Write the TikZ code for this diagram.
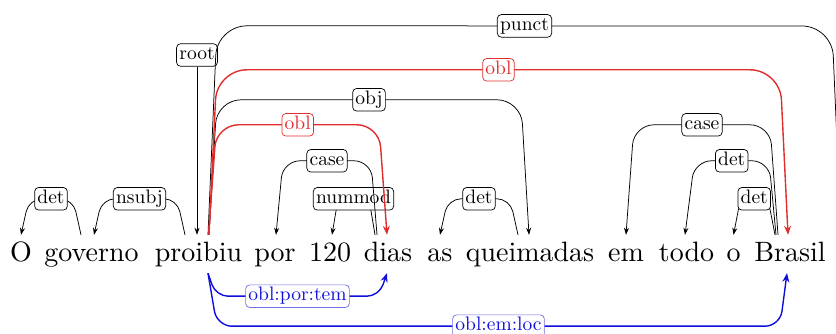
\documentclass[tikz,border=0pt]{standalone}
\usepackage{fontspec}
\setmainfont{lmroman10-regular.otf}
\usetikzlibrary{arrows.meta}
\definecolor{depred}{RGB}{225,45,45}
\definecolor{depblue}{RGB}{15,15,220}
\definecolor{deplblue}{RGB}{110,110,230}
\begin{document}
\begin{tikzpicture}[x=1pt,y=1pt,
  word/.style={inner sep=0pt, text height=27pt, text depth=11pt, anchor=base, font=\fontsize{28}{34}\selectfont},
  lab/.style={draw, rounded corners=4pt, fill=white, inner sep=2.8pt, text height=13pt, text depth=4pt, font=\fontsize{19.5}{23}\selectfont, line width=0.7pt, text=black},
  dep/.style={draw=black, line width=0.75pt, -{Stealth[length=7pt,width=5pt]}},
  depr/.style={draw=depred, line width=1.4pt, -{Stealth[length=9pt,width=7pt]}},
  labr/.style={lab, draw=depred, text=depred},
  depb/.style={draw=depblue, line width=1.4pt, -{Stealth[length=9pt,width=7pt]}},
  labb/.style={lab, draw=deplblue, text=depblue},
]
\useasboundingbox (0,0) rectangle (836,334);
\clip (0,0) rectangle (836,334);
% words
\node[word] (w1) at (21,72) {O};
\node[word] (w2) at (91.5,72) {governo};
\node[word] (w3) at (198.5,72) {proibiu};
\node[word] (w4) at (275,72) {por};
\node[word] (w5) at (330,72) {120};
\node[word] (w6) at (388,72) {dias};
\node[word] (w7) at (440,72) {as};
\node[word] (w8) at (530,72) {queimadas};
\node[word] (w9) at (626,72) {em};
\node[word] (w10) at (686.5,72) {todo};
\node[word] (w11) at (733.5,72) {o};
\node[word] (w12) at (790,72) {Brasil};
\coordinate (w13) at (841,99);
% black edges
\draw[dep, rounded corners=13pt] ([xshift=-10.5pt]w2.north) -- ++(-8,36) -- node[lab]{det} ([xshift=8pt,yshift=36pt]w1.north) -- (w1.north);
\draw[dep, rounded corners=13pt] ([xshift=-13.5pt]w3.north) -- ++(-8,36) -- node[lab]{nsubj} ([xshift=10.5pt,yshift=36pt]w2.north) -- ([xshift=2.5pt]w2.north);
\node[lab] (root) at (197,279) {root};
\draw[dep] (root.south) -- (root.south |- w3.north);
\draw[dep, rounded corners=30pt] ([xshift=9.5pt]w3.north) -- ++(9,209) -- node[lab]{punct} ([xshift=-9pt,yshift=209pt]w13) -- (w13);
\draw[dep, rounded corners=24pt] ([xshift=10.5pt]w3.north) -- ++(8,135) -- node[lab]{obj} ([xshift=-9pt,yshift=135pt]w8.north) -- ([xshift=-1pt]w8.north);
\draw[dep, rounded corners=12pt] ([xshift=-13pt]w6.north) -- ++(-6,36) -- node[lab]{nummod} ([xshift=8pt,yshift=36pt]w5.north) -- ([xshift=2pt]w5.north);
\draw[dep, rounded corners=17pt] ([xshift=-11pt]w6.north) -- ++(-6,74) -- node[lab]{case} ([xshift=8pt,yshift=74pt]w4.north) -- ([xshift=1pt]w4.north);
\draw[dep, rounded corners=13pt] ([xshift=-12pt]w8.north) -- ++(-8,36) -- node[lab]{det} ([xshift=8pt,yshift=36pt]w7.north) -- (w7.north);
\draw[dep, rounded corners=20pt] ([xshift=-12pt]w12.north) -- ++(-8,110) -- node[lab]{case} ([xshift=8pt,yshift=110pt]w9.north) -- (w9.north);
\draw[dep, rounded corners=17pt] ([xshift=-14pt]w12.north) -- ++(-7,74) -- node[lab]{det} ([xshift=8pt,yshift=74pt]w10.north) -- ([xshift=-1.5pt]w10.north);
\draw[dep, rounded corners=11pt] ([xshift=-15pt]w12.north) -- ++(-7,36) -- node[lab]{det} ([xshift=7pt,yshift=36pt]w11.north) -- (w11.north);
% red edges
\draw[depr, rounded corners=30pt] ([xshift=10.5pt]w3.north) -- ++(8,165) -- node[labr]{obl} ([xshift=-10pt,yshift=165pt]w12.north) -- ([xshift=-2pt]w12.north);
\draw[depr, rounded corners=22pt] ([xshift=10pt]w3.north) -- ++(8,110) -- node[labr]{obl} ([xshift=-9pt,yshift=110pt]w6.north) -- ([xshift=-1pt]w6.north);
% blue edges
\draw[depb, rounded corners=12pt] ([xshift=9.5pt]w3.south) -- ++(8,-23) -- node[labb]{obl:por:tem} ([xshift=-9pt,yshift=-23pt]w6.south) -- ([xshift=-1pt]w6.south);
\draw[depb, rounded corners=15pt] ([xshift=9.5pt]w3.south) -- ++(9,-53) -- node[labb]{obl:em:loc} ([xshift=-10pt,yshift=-53pt]w12.south) -- ([xshift=-3pt]w12.south);
\end{tikzpicture}
\end{document}
